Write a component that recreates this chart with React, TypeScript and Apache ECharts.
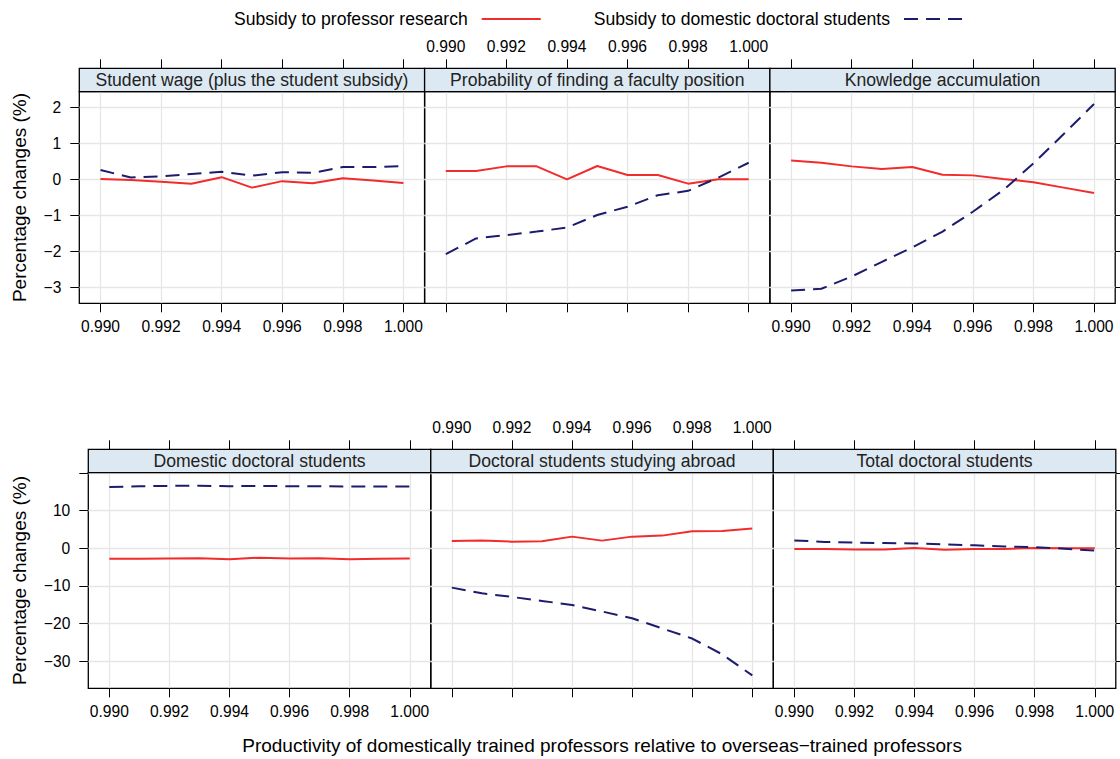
import React, { useEffect, useRef } from "react";
import * as echarts from "echarts";

// ---------- data ----------
const xValues = [0.99, 0.991, 0.992, 0.993, 0.994, 0.995, 0.996, 0.997, 0.998, 0.999, 1.0];
const xTicks = [0.99, 0.992, 0.994, 0.996, 0.998, 1.0];
const topYTicks = [-3, -2, -1, 0, 1, 2];
const topYLabels = [-3, -2, -1, 0, 1, 2];
const bottomYTicks = [-30, -20, -10, 0, 10, 20];
const bottomYLabels = [-30, -20, -10, 0, 10];

const SERIES_A = "Subsidy to professor research";
const SERIES_B = "Subsidy to domestic doctoral students";

const panelTitles = [
  "Student wage (plus the student subsidy)",
  "Probability of finding a faculty position",
  "Knowledge accumulation",
  "Domestic doctoral students",
  "Doctoral students studying abroad",
  "Total doctoral students",
];

const wageResearch = [0.02, -0.01, -0.06, -0.11, 0.07, -0.22, -0.04, -0.1, 0.04, -0.02, -0.09];
const wageDomestic = [0.27, 0.06, 0.09, 0.16, 0.22, 0.11, 0.21, 0.19, 0.35, 0.35, 0.38];
const probResearch = [0.24, 0.24, 0.37, 0.37, 0.01, 0.38, 0.13, 0.13, -0.11, 0.01, 0.01];
const probDomestic = [-2.07, -1.63, -1.54, -1.44, -1.33, -0.98, -0.75, -0.43, -0.31, 0.06, 0.47];
const knowResearch = [0.53, 0.47, 0.37, 0.3, 0.35, 0.14, 0.12, 0.02, -0.07, -0.22, -0.37];
const knowDomestic = [-3.08, -3.03, -2.69, -2.28, -1.88, -1.44, -0.89, -0.29, 0.45, 1.27, 2.1];
const domResearch = [-2.8, -2.75, -2.7, -2.65, -2.9, -2.5, -2.7, -2.65, -2.9, -2.8, -2.7];
const domDomestic = [16.3, 16.5, 16.6, 16.6, 16.5, 16.6, 16.5, 16.5, 16.4, 16.4, 16.4];
const abroadResearch = [1.95, 2.04, 1.77, 1.86, 3.1, 2.04, 3.1, 3.37, 4.52, 4.61, 5.23];
const abroadDomestic = [-10.46, -11.97, -12.94, -14.0, -15.07, -16.8, -18.6, -21.3, -24.0, -28.2, -33.8];
const totalResearch = [-0.2, -0.2, -0.3, -0.3, 0.1, -0.4, -0.2, -0.2, 0.1, 0.0, 0.0];
const totalDomestic = [2.1, 1.7, 1.5, 1.4, 1.3, 1.05, 0.8, 0.5, 0.27, -0.1, -0.6];

const researchSets = [wageResearch, probResearch, knowResearch, domResearch, abroadResearch, totalResearch];
const domesticSets = [wageDomestic, probDomestic, knowDomestic, domDomestic, abroadDomestic, totalDomestic];

// ---------- style / layout ----------
const FONT = '"Liberation Sans", Arial, Helvetica, sans-serif';
const RED = "#f22b2b";
const NAVY = "#1c1c6e";
const GRIDC = "#e6e6e6";
const STRIP = "#dde9f2";

const X_MIN = 0.9893;
const X_MAX = 1.0007;
const STRIP_H = 23.4;
const TICK_LEN = 9;

const rows = [
  { top: 91.7, height: 211.6, lefts: [79.3, 424.6, 769.9], width: 345.3, yMin: -3.433, yMax: 2.444, ticks: topYTicks, labels: topYLabels },
  { top: 472.7, height: 215.6, lefts: [88.3, 430.8, 773.3], width: 342.5, yMin: -37.23, yMax: 20.1, ticks: bottomYTicks, labels: bottomYLabels },
];

const tickFont = { fontFamily: FONT, fontSize: 15.6, color: "#000" };

function buildOption() {
  const grid: any[] = [];
  const xAxis: any[] = [];
  const yAxis: any[] = [];
  const series: any[] = [];
  const graphic: any[] = [];

  for (let i = 0; i < 6; i++) {
    const r = Math.floor(i / 3);
    const c = i % 3;
    const row = rows[r];
    const left = row.lefts[c];
    grid.push({
      left,
      top: row.top,
      width: row.width,
      height: row.height,
      show: true,
      borderColor: "#000",
      borderWidth: 1.3,
      backgroundColor: "transparent",
      containLabel: false,
      outerBoundsMode: "none",
    });
    const tickStyle = { show: true, inside: false, length: TICK_LEN, customValues: xTicks, lineStyle: { color: "#000", width: 1 } };
    xAxis.push({
      type: "value",
      gridIndex: i,
      position: "bottom",
      min: X_MIN,
      max: X_MAX,
      axisLine: { show: false, onZero: false },
      axisTick: tickStyle,
      axisLabel: {
        show: c !== 1,
        customValues: xTicks,
        formatter: (v: number) => v.toFixed(3),
        margin: 15,
        ...tickFont,
      },
      splitLine: { show: true, lineStyle: { color: GRIDC, width: 1.3 } },
    });
    xAxis.push({
      type: "value",
      gridIndex: i,
      position: "top",
      offset: STRIP_H,
      min: X_MIN,
      max: X_MAX,
      axisLine: { show: false, onZero: false },
      axisTick: tickStyle,
      axisLabel: {
        show: c === 1,
        customValues: xTicks,
        formatter: (v: number) => v.toFixed(3),
        margin: 14,
        ...tickFont,
      },
      splitLine: { show: false },
    });
    yAxis.push({
      type: "value",
      gridIndex: i,
      position: "left",
      min: row.yMin,
      max: row.yMax,
      axisLine: { show: false, onZero: false },
      axisTick: { show: c === 0, inside: false, length: TICK_LEN, customValues: row.ticks, lineStyle: { color: "#000", width: 1 } },
      axisLabel: { show: c === 0, customValues: row.labels, margin: 18, formatter: (v: number) => (v < 0 ? "\u2212" + Math.abs(v) : String(v)), ...tickFont },
      splitLine: { show: true, lineStyle: { color: GRIDC, width: 1.3 } },
    });
    yAxis.push({
      type: "value",
      gridIndex: i,
      position: "right",
      min: row.yMin,
      max: row.yMax,
      axisLine: { show: false, onZero: false },
      axisTick: { show: c === 2, inside: false, length: TICK_LEN, customValues: row.ticks, lineStyle: { color: "#000", width: 1 } },
      axisLabel: { show: false, customValues: row.ticks },
      splitLine: { show: false },
    });

    series.push({
      type: "line",
      name: SERIES_A,
      xAxisIndex: 2 * i,
      yAxisIndex: 2 * i,
      symbol: "none",
      showSymbol: false,
      clip: true,
      data: xValues.map((x, k) => [x, researchSets[i][k]]),
      lineStyle: { color: RED, width: 2, type: "solid" },
      itemStyle: { color: RED },
      z: 3,
    });
    series.push({
      type: "line",
      name: SERIES_B,
      xAxisIndex: 2 * i,
      yAxisIndex: 2 * i,
      symbol: "none",
      showSymbol: false,
      clip: true,
      data: xValues.map((x, k) => [x, domesticSets[i][k]]),
      lineStyle: { color: NAVY, width: 2, type: [14, 8] },
      itemStyle: { color: NAVY },
      z: 4,
    });

    // strip
    graphic.push({
      type: "rect",
      shape: { x: left, y: row.top - STRIP_H, width: row.width, height: STRIP_H },
      style: { fill: STRIP, stroke: "#000", lineWidth: 1.3 },
      z: 10,
    });
    graphic.push({
      type: "text",
      x: left + row.width / 2,
      y: row.top - STRIP_H / 2,
      style: { text: panelTitles[i], font: `17.6px ${FONT}`, fill: "#222", align: "center", verticalAlign: "middle" },
      z: 11,
    });
  }

  // y titles
  rows.forEach((row) => {
    graphic.push({
      type: "text",
      x: 19,
      y: row.top + row.height / 2,
      rotation: Math.PI / 2,
      style: { text: "Percentage changes (%)", font: `19px ${FONT}`, fill: "#000", align: "center", verticalAlign: "middle" },
    });
  });
  const br = rows[1];
  graphic.push({
    type: "text",
    x: (br.lefts[0] + br.lefts[2] + br.width) / 2,
    y: 745,
    style: {
      text: "Productivity of domestically trained professors relative to overseas\u2212trained professors",
      font: `19px ${FONT}`,
      fill: "#000",
      align: "center",
      verticalAlign: "middle",
    },
  });

  return {
    animation: false,
    backgroundColor: "#fff",
    legend: {
      data: [SERIES_A, SERIES_B],
      left: 229,
      top: 5,
      itemWidth: 59,
      itemHeight: 14,
      itemGap: 52,
      align: "right",
      selectedMode: false,
      itemStyle: { opacity: 0 },
      textStyle: { fontFamily: FONT, fontSize: 17.6, color: "#000", padding: [0, 9, 0, 0] },
    },
    grid,
    xAxis,
    yAxis,
    series,
    graphic,
  };
}

export default function App() {
  const ref = useRef<HTMLDivElement>(null);
  useEffect(() => {
    if (!ref.current) return;
    const chart = echarts.init(ref.current, null, { renderer: "svg" });
    chart.setOption(buildOption() as any);
    return () => chart.dispose();
  }, []);
  return <div ref={ref} style={{ position: "absolute", left: 0, top: 0, width: 1120, height: 759 }} />;
}
